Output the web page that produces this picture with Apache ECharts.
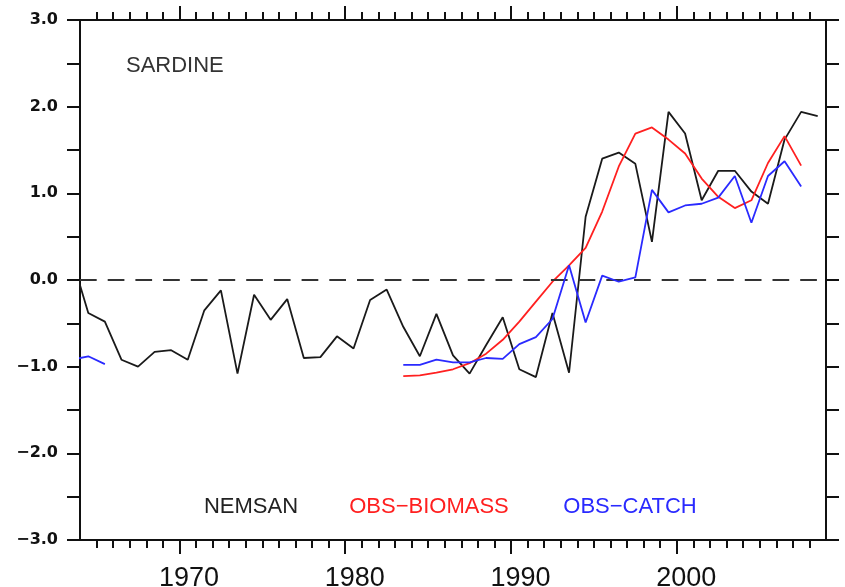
<!DOCTYPE html>
<html>
<head>
<meta charset="utf-8">
<script src="https://cdn.jsdelivr.net/npm/echarts@6/dist/echarts.min.js"></script>
<style>html,body{margin:0;padding:0;background:#fff}#c{width:845px;height:587px}</style>
</head>
<body>
<div id="c"></div>
<script>
// Years (plotted at mid-year)
const years = [1963,1964,1965,1966,1967,1968,1969,1970,1971,1972,1973,1974,1975,1976,1977,1978,1979,1980,1981,1982,1983,1984,1985,1986,1987,1988,1989,1990,1991,1992,1993,1994,1995,1996,1997,1998,1999,2000,2001,2002,2003,2004,2005,2006,2007,2008];
const nemsan = [0.26,-0.38,-0.48,-0.92,-1.00,-0.83,-0.81,-0.92,-0.35,-0.12,-1.08,-0.17,-0.46,-0.22,-0.90,-0.89,-0.65,-0.79,-0.23,-0.11,-0.54,-0.88,-0.39,-0.87,-1.08,-0.75,-0.43,-1.03,-1.12,-0.38,-1.07,0.73,1.40,1.47,1.34,0.44,1.94,1.69,0.92,1.26,1.26,1.02,0.88,1.62,1.94,1.89];
const obsBiomass = [null,null,null,null,null,null,null,null,null,null,null,null,null,null,null,null,null,null,null,null,-1.11,-1.10,-1.07,-1.03,-0.96,-0.85,-0.69,-0.48,-0.25,-0.02,0.17,0.37,0.79,1.31,1.69,1.76,1.62,1.46,1.17,0.96,0.83,0.92,1.35,1.66,1.32,null];
const obsCatch = [-0.92,-0.88,-0.97,null,null,null,null,null,null,null,null,null,null,null,null,null,null,null,null,null,-0.98,-0.98,-0.92,-0.95,-0.95,-0.90,-0.91,-0.74,-0.66,-0.45,0.17,-0.49,0.05,-0.02,0.03,1.04,0.78,0.86,0.88,0.95,1.20,0.66,1.20,1.37,1.08,null];
const xMajorTicks = [1970,1980,1990,2000];
const xMinorTicks = [1965,1966,1967,1968,1969,1971,1972,1973,1974,1975,1976,1977,1978,1979,1981,1982,1983,1984,1985,1986,1987,1988,1989,1991,1992,1993,1994,1995,1996,1997,1998,1999,2001,2002,2003,2004,2005,2006,2007,2008];
const yLabelValues = [-3,-2,-1,0,1,2,3];
const title = 'SARDINE';
const seriesNames = ['NEMSAN','OBS\u2212BIOMASS','OBS\u2212CATCH'];

const pts = arr => years.map((y,i) => [y + 0.5, arr[i]]);
const X0 = 1964, X1 = 2009;
const axisCol = '#111';

function xAx(pos, ticks, len, labels) {
  return {
    type: 'value', min: X0, max: X1, position: pos,
    axisLine: {show: true, onZero: false, lineStyle: {color: axisCol, width: 2}},
    axisTick: {show: true, inside: false, length: len, customValues: ticks, lineStyle: {color: axisCol, width: 2}},
    axisLabel: labels ? {show: true, customValues: xMajorTicks, formatter: v => String(v), fontFamily: 'Liberation Sans', fontSize: 27, color: '#111', margin: 25, padding: [0,0,0,19]} : {show: false},
    splitLine: {show: false}
  };
}
function yAx(pos, labels) {
  return {
    type: 'value', min: -3, max: 3, interval: 0.5, position: pos,
    axisLine: {show: true, onZero: false, lineStyle: {color: axisCol, width: 2}},
    axisTick: {show: true, inside: false, length: 13, lineStyle: {color: axisCol, width: 2}},
    axisLabel: labels ? {show: true, customValues: yLabelValues,
      formatter: v => (v < 0 ? '\u2212' : '') + Math.abs(v).toFixed(1),
      fontFamily: 'DejaVu Sans', fontWeight: 'bold', fontSize: 16, color: '#111', margin: 22} : {show: false},
    splitLine: {show: false}
  };
}

const chart = echarts.init(document.getElementById('c'), null, {renderer: 'canvas'});
chart.setOption({
  animation: false,
  backgroundColor: '#fff',
  grid: {left: 80, right: 19, top: 20, bottom: 47, containLabel: false, outerBoundsMode: 'none'},
  xAxis: [
    xAx('bottom', xMajorTicks, 14, true),
    xAx('bottom', xMinorTicks, 8, false),
    xAx('top', xMajorTicks, 14, false),
    xAx('top', xMinorTicks, 8, false)
  ],
  yAxis: [yAx('left', true), yAx('right', false)],
  series: [
    {name: seriesNames[0], type: 'line', data: pts(nemsan), showSymbol: false, symbol: 'none', clip: true,
     lineStyle: {color: '#1a1a1a', width: 1.8}, z: 3,
     markLine: {silent: true, symbol: 'none', label: {show: false},
       lineStyle: {color: '#333', width: 2, type: [16.7, 11]}, data: [{yAxis: 0}]}},
    {name: seriesNames[1], type: 'line', data: pts(obsBiomass), showSymbol: false, symbol: 'none', clip: true,
     connectNulls: false, lineStyle: {color: '#ff2020', width: 1.8}, z: 4},
    {name: seriesNames[2], type: 'line', data: pts(obsCatch), showSymbol: false, symbol: 'none', clip: true,
     connectNulls: false, lineStyle: {color: '#2a2aff', width: 1.8}, z: 5}
  ],
  graphic: [
    {type: 'text', left: 126, top: 55, style: {text: title, font: '22px "Liberation Sans"', fill: '#333'}},
    {type: 'text', x: 251, y: 507, style: {text: seriesNames[0], font: '22px "Liberation Sans"', fill: '#222', textAlign: 'center', textVerticalAlign: 'middle'}},
    {type: 'text', x: 429, y: 507, style: {text: seriesNames[1], font: '22px "Liberation Sans"', fill: '#ff2020', textAlign: 'center', textVerticalAlign: 'middle'}},
    {type: 'text', x: 630, y: 507, style: {text: seriesNames[2], font: '22px "Liberation Sans"', fill: '#2a2aff', textAlign: 'center', textVerticalAlign: 'middle'}}
  ]
});
</script>
</body>
</html>
